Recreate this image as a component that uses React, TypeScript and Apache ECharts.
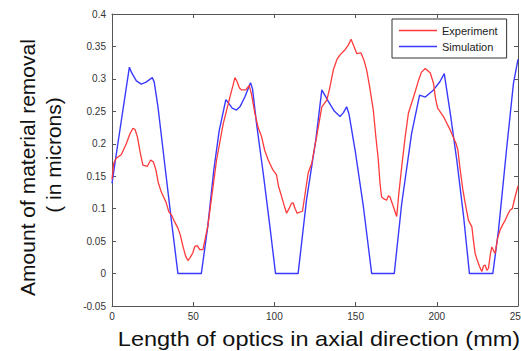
import React, { useEffect, useRef } from "react";
import * as echarts from "echarts";

const simX = [0, 3, 10.7, 12, 15, 18, 21, 24.8, 26, 28.3, 32.4, 36.5, 40.6, 55, 59, 62.7, 66, 70.1, 72, 74, 76.7, 79, 81.8, 85.3, 86.5, 89, 93.1, 97.2, 100.7, 114.6, 119.8, 125.5, 129.2, 133.3, 137, 140.4, 142.5, 144.5, 146, 149.7, 154.8, 159.9, 173.8, 178.4, 184.5, 189.4, 192.9, 198, 202, 204.6, 208.3, 212.3, 216.5, 220.1, 234.5, 238, 243.1, 247.2, 250];
const simY = [0.139, 0.19, 0.318, 0.31, 0.297, 0.292, 0.295, 0.302, 0.295, 0.257, 0.17, 0.083, 0, 0, 0.073, 0.16, 0.22, 0.268, 0.262, 0.255, 0.252, 0.258, 0.272, 0.294, 0.285, 0.231, 0.155, 0.073, 0, 0, 0.114, 0.206, 0.283, 0.265, 0.25, 0.242, 0.248, 0.257, 0.245, 0.19, 0.103, 0, 0, 0.108, 0.216, 0.275, 0.272, 0.283, 0.296, 0.308, 0.247, 0.175, 0.088, 0, 0, 0.067, 0.195, 0.293, 0.33];

const expX = [0, 1, 2.7, 5.7, 8.8, 11, 12.9, 14.2, 15.6, 17.5, 19, 21.7, 23.8, 25.5, 27, 28.5, 30.3, 33.4, 35, 36.5, 38.5, 40.6, 42, 43.7, 45.2, 46.7, 48.2, 49.8, 51, 52.5, 54, 56, 59, 64.4, 68.5, 72.6, 74.5, 75.7, 77, 78.5, 79.8, 82.4, 84.5, 86, 88, 90, 92.1, 94, 96.2, 99, 101.3, 102.5, 104.4, 106, 107.5, 109, 110.5, 111.5, 112.8, 114, 117.3, 120.8, 123, 126, 129.2, 132.2, 134, 136.3, 138.5, 140.4, 143.5, 145.5, 147.2, 149, 150.7, 153.3, 155, 156.8, 158.5, 160.9, 162.5, 164, 165, 166, 167.5, 169.1, 170.2, 171.2, 173, 175.3, 176.5, 178.4, 180.5, 182.5, 185.7, 188.8, 190.5, 192.9, 196, 198, 199.2, 200.5, 204.1, 208.3, 211.9, 213, 214.4, 216, 217.5, 219.5, 221.6, 222.6, 223.6, 225, 226.3, 227.7, 228.8, 229.8, 230.8, 231.8, 233, 233.9, 235, 235.9, 237.5, 239, 240.5, 242.1, 243.5, 245.2, 246.5, 248.2, 250];
const expY = [0.145, 0.17, 0.178, 0.183, 0.2, 0.215, 0.224, 0.222, 0.211, 0.185, 0.167, 0.165, 0.175, 0.172, 0.16, 0.14, 0.126, 0.109, 0.095, 0.091, 0.08, 0.07, 0.06, 0.042, 0.028, 0.02, 0.025, 0.032, 0.042, 0.043, 0.037, 0.037, 0.073, 0.175, 0.231, 0.272, 0.29, 0.302, 0.296, 0.286, 0.283, 0.283, 0.29, 0.275, 0.247, 0.225, 0.211, 0.19, 0.175, 0.16, 0.152, 0.135, 0.119, 0.105, 0.093, 0.1, 0.108, 0.109, 0.1, 0.093, 0.096, 0.155, 0.17, 0.211, 0.257, 0.267, 0.285, 0.314, 0.33, 0.337, 0.345, 0.352, 0.361, 0.35, 0.339, 0.34, 0.33, 0.314, 0.29, 0.252, 0.21, 0.175, 0.14, 0.118, 0.115, 0.113, 0.12, 0.118, 0.105, 0.088, 0.12, 0.165, 0.21, 0.247, 0.272, 0.298, 0.31, 0.316, 0.309, 0.293, 0.27, 0.255, 0.242, 0.221, 0.2, 0.19, 0.16, 0.13, 0.108, 0.082, 0.072, 0.05, 0.031, 0.02, 0.011, 0.003, 0.012, 0.013, 0.005, 0.008, 0.03, 0.041, 0.035, 0.031, 0.055, 0.067, 0.075, 0.082, 0.09, 0.098, 0.1, 0.118, 0.135];

const seriesNames = ["Experiment", "Simulation"];
const xTitle = "Length of optics in axial direction (mm)";
const yTitle1 = "Amount of material removal";
const yTitle2 = "( in microns)";

const FONT = "'Liberation Sans', Arial, sans-serif";
const AXIS_COLOR = "#555";

export default function App() {
  const ref = useRef<HTMLDivElement>(null);
  useEffect(() => {
    if (!ref.current) return;
    const chart = echarts.init(ref.current, undefined, { renderer: "svg" });
    const zip = (xs: number[], ys: number[]) => xs.map((x, i) => [x, ys[i]]);
    const fmt = (v: number) => String(parseFloat(v.toFixed(2)));
    const baseX = {
      type: "value" as const,
      min: 0,
      max: 250,
      interval: 50,
      splitLine: { show: false },
      axisLine: { show: true, onZero: false, lineStyle: { color: AXIS_COLOR, width: 1 } },
      axisTick: { show: true, inside: true, length: 4, lineStyle: { color: AXIS_COLOR } },
    };
    const baseY = {
      type: "value" as const,
      min: -0.05,
      max: 0.4,
      interval: 0.05,
      splitLine: { show: false },
      axisLine: { show: true, onZero: false, lineStyle: { color: AXIS_COLOR, width: 1 } },
      axisTick: { show: true, inside: true, length: 4, lineStyle: { color: AXIS_COLOR } },
    };
    chart.setOption({
      animation: false,
      backgroundColor: "#fff",
      textStyle: { fontFamily: FONT },
      grid: { left: 112, right: 3, top: 14, bottom: 45, containLabel: false, outerBoundsMode: "none" },
      legend: {
        data: seriesNames,
        orient: "vertical",
        left: 392,
        top: 19,
        padding: [5, 9, 5, 7],
        itemGap: 3,
        itemWidth: 38,
        itemHeight: 1.5,
        icon: "rect",
        backgroundColor: "#fff",
        borderColor: "#333",
        borderWidth: 1,
        borderRadius: 0,
        textStyle: { fontSize: 11, color: "#222", fontFamily: FONT, lineHeight: 13 },
      },
      xAxis: [
        {
          ...baseX,
          position: "bottom",
          axisLabel: {
            fontSize: 10,
            color: "#333",
            margin: 5,
            fontFamily: FONT,
            alignMinLabel: "center",
            alignMaxLabel: "center",
            hideOverlap: false,
          },
        },
        { ...baseX, position: "top", axisLabel: { show: false } },
      ],
      yAxis: [
        {
          ...baseY,
          position: "left",
          axisLabel: { fontSize: 10, color: "#333", margin: 6, fontFamily: FONT, formatter: fmt },
        },
        { ...baseY, position: "right", axisLabel: { show: false } },
      ],
      series: [
        {
          name: seriesNames[0],
          type: "line",
          data: zip(expX, expY),
          symbol: "none",
          lineStyle: { color: "#ff3a3a", width: 1.3 },
          itemStyle: { color: "#ff3a3a" },
          z: 3,
        },
        {
          name: seriesNames[1],
          type: "line",
          data: zip(simX, simY),
          symbol: "none",
          lineStyle: { color: "#3a3aff", width: 1.4 },
          itemStyle: { color: "#3a3aff" },
          z: 2,
        },
      ],
      graphic: [
        {
          type: "text",
          x: 319,
          y: 339,
          scaleX: 1.12,
          style: { text: xTitle, fontSize: 21, fontFamily: FONT, fill: "#111", align: "center", verticalAlign: "middle" },
        },
        {
          type: "text",
          x: 27,
          y: 167.5,
          rotation: Math.PI / 2,
          style: { text: yTitle1, fontSize: 21, fontFamily: FONT, fill: "#111", align: "center", verticalAlign: "middle" },
        },
        {
          type: "text",
          x: 53,
          y: 155,
          rotation: Math.PI / 2,
          style: { text: yTitle2, fontSize: 21, fontFamily: FONT, fill: "#111", align: "center", verticalAlign: "middle" },
        },
      ],
    });
    return () => chart.dispose();
  }, []);
  return <div ref={ref} style={{ position: "fixed", left: 0, top: 0, width: 521, height: 351 }} />;
}
